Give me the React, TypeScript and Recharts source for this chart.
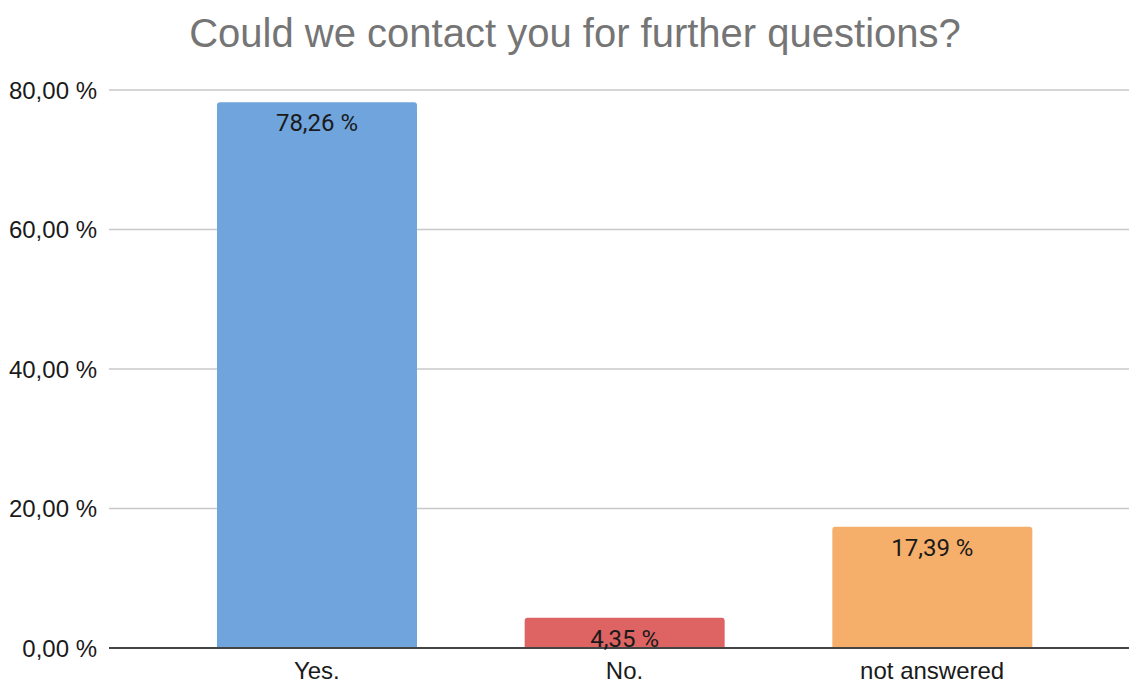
import React from 'react';
import { BarChart, Bar, XAxis, YAxis, CartesianGrid, Cell, LabelList } from 'recharts';

const categories = ['Yes.', 'No.', 'not answered'];
const shares = [78.26, 4.35, 17.39];
const barColors = ['#6fa4dc', '#de6464', '#f5af6a'];
const yTicks = [0, 20, 40, 60, 80];
const title = 'Could we contact you for further questions?';

const data = categories.map((c, i) => ({ name: c, value: shares[i] }));

const fmt = (v: number) => v.toFixed(2).replace('.', ',') + ' %';

const BarLabel = (props: any) => {
  const { x, y, width, value } = props;
  return (
    <text
      x={x + width / 2}
      y={y + 21}
      textAnchor="middle"
      dominantBaseline="central"
      fontFamily="Roboto, sans-serif"
      fontSize={24}
      fill="#1a1a1a"
    >
      {fmt(value)}
    </text>
  );
};

export default function App() {
  return (
    <div style={{ position: 'absolute', left: 0, top: 0, width: 1130, height: 682, background: '#fff' }}>
      <div
        style={{
          position: 'absolute',
          left: 0,
          top: 13,
          width: 1150,
          textAlign: 'center',
          fontFamily: '"Liberation Sans", Arial, sans-serif',
          fontSize: 40,
          lineHeight: '40px',
          color: '#757575',
          whiteSpace: 'nowrap',
        }}
      >
        {title}
      </div>
      <BarChart
        width={1130}
        height={682}
        data={data}
        margin={{ top: 90, right: 1, bottom: 4, left: 0 }}
        style={{ position: 'absolute', left: 0, top: 0 }}
      >
        <CartesianGrid horizontal vertical={false} stroke="#c8c8c8" strokeWidth={1.3} />
        <XAxis
          dataKey="name"
          height={30}
          padding={{ left: 54, right: 43 }}
          tickLine={false}
          tickSize={0}
          tickMargin={14}
          axisLine={{ stroke: '#444', strokeWidth: 2 }}
          tick={{ fill: '#1a1a1a', fontSize: 24, fontFamily: '"Liberation Sans", Arial, sans-serif' }}
        />
        <YAxis
          width={109}
          domain={[0, 80]}
          ticks={yTicks}
          tickFormatter={fmt}
          axisLine={false}
          tickLine={false}
          tickSize={0}
          tickMargin={12}
          tick={{ fill: '#1a1a1a', fontSize: 24, fontFamily: '"Liberation Sans", Arial, sans-serif' }}
        />
        <Bar dataKey="value" barSize={200} radius={[3, 3, 0, 0]} isAnimationActive={false}>
          {data.map((d, i) => (
            <Cell key={d.name} fill={barColors[i]} />
          ))}
          <LabelList dataKey="value" content={<BarLabel />} />
        </Bar>
      </BarChart>
    </div>
  );
}
